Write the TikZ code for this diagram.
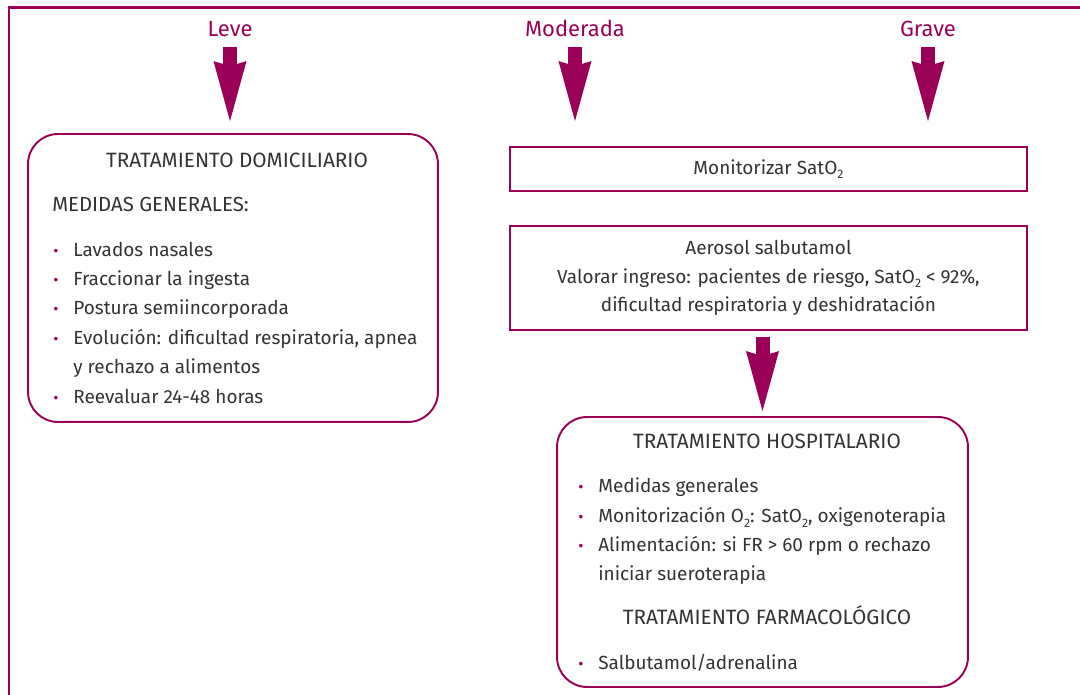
\documentclass[tikz,border=0pt]{standalone}
\usepackage{fontspec}
\setmainfont{Fira Sans}
\usetikzlibrary{arrows.meta}
\definecolor{mag}{RGB}{155,0,88}
\definecolor{ink}{RGB}{51,51,51}
\newcommand{\fs}{\fontsize{10.8}{16.44}\selectfont}
\newcommand{\sub}[1]{\raisebox{-0.45ex}{\scriptsize #1}}
\tikzstyle{roundbox} = [rectangle, rounded corners=0.6cm, draw=mag, line width=1.1pt]
\tikzstyle{plainbox} = [rectangle, draw=mag, line width=1.1pt, minimum width=10.34cm, align=center, text=ink, font=\fs]
\tikzstyle{grade} = [text=mag, inner sep=0pt, anchor=base, font=\fontsize{12.5}{15}\selectfont]
\tikzstyle{head} = [text=ink, inner sep=0pt, anchor=base, font=\fontsize{11.8}{15}\selectfont]
\tikzstyle{itemtxt} = [text=ink, inner sep=0pt, anchor=base west, font=\fs]
\tikzstyle{bigarrow} = [draw=mag, line width=0.28cm, -{Stealth[length=1.2cm, width=0.66cm, inset=0.1cm, line width=0pt]}]
\newcommand{\bul}{\makebox[0.42cm][l]{\hspace{0.02cm}\textcolor{mag}{\small\textbullet}}}

\begin{document}
\begin{tikzpicture}[x=0.02cm, y=-0.02cm]
\useasboundingbox (0,0) rectangle (1080,695);
% frame
\draw[mag, line width=1.7pt] (9,695) -- (9,8) -- (1080,8);

% grades
\node (leve) [grade] at (230,37) {Leve};
\node (moderada) [grade] at (575,37) {Moderada};
\node (grave) [grade] at (928,37) {Grave};

% left column
\node (domic) [roundbox, minimum width=8.2cm, minimum height=5.76cm] at (233,278) {};
\node (domtitle) [head] at (237,168) {TRATAMIENTO DOMICILIARIO};
\node (medidas) [itemtxt, font=\fontsize{11.6}{15}\selectfont] at (52,212) {MEDIDAS GENERALES:};
\node (d1) [itemtxt] at (52,257) {\bul Lavados nasales};
\node (d2) [itemtxt] at (52,286) {\bul Fraccionar la ingesta};
\node (d3) [itemtxt] at (52,315) {\bul Postura semiincorporada};
\node (d4) [itemtxt] at (52,345) {\bul Evolución: dificultad respiratoria, apnea};
\node (d4b) [itemtxt] at (73,374) {y rechazo a alimentos};
\node (d5) [itemtxt] at (52,404) {\bul Reevaluar 24-48 horas};

% right column
\node (mon) [plainbox, minimum height=0.88cm] at (768.5,169) {Monitorizar SatO\sub{2}};
\node (aer) [plainbox, minimum height=2.08cm] at (768.5,278) {Aerosol salbutamol\\Valorar ingreso: pacientes de riesgo, SatO\sub{2} < 92\%,\\dificultad respiratoria y deshidratación};

\node (hosp) [roundbox, minimum width=8.22cm, minimum height=5.4cm] at (762.5,552) {};
\node (hosptitle) [head] at (767,449) {TRATAMIENTO HOSPITALARIO};
\node (h1) [itemtxt] at (577,493) {\bul Medidas generales};
\node (h2) [itemtxt] at (577,523) {\bul Monitorización O\sub{2}: SatO\sub{2}, oxigenoterapia};
\node (h3) [itemtxt] at (577,552) {\bul Alimentación: si FR > 60 rpm o rechazo};
\node (h3b) [itemtxt] at (598,581) {iniciar sueroterapia};
\node (farmtitle) [head] at (767,625) {TRATAMIENTO FARMACOLÓGICO};
\node (h4) [itemtxt] at (577,670) {\bul Salbutamol/adrenalina};

% arrows
\draw [bigarrow, shorten <=0.18cm, shorten >=0.24cm] (leve.south) -- (leve.south |- domic.north);
\draw [bigarrow, shorten <=0.18cm, shorten >=0.5cm] (moderada.south) -- (moderada.south |- mon.north);
\draw [bigarrow, shorten <=0.18cm, shorten >=0.5cm] (grave.south) -- (grave.south |- mon.north);
\draw [bigarrow, shorten <=0.12cm, shorten >=0.1cm] (aer.south -| hosp.north) -- (hosp.north);
\end{tikzpicture}
\end{document}
